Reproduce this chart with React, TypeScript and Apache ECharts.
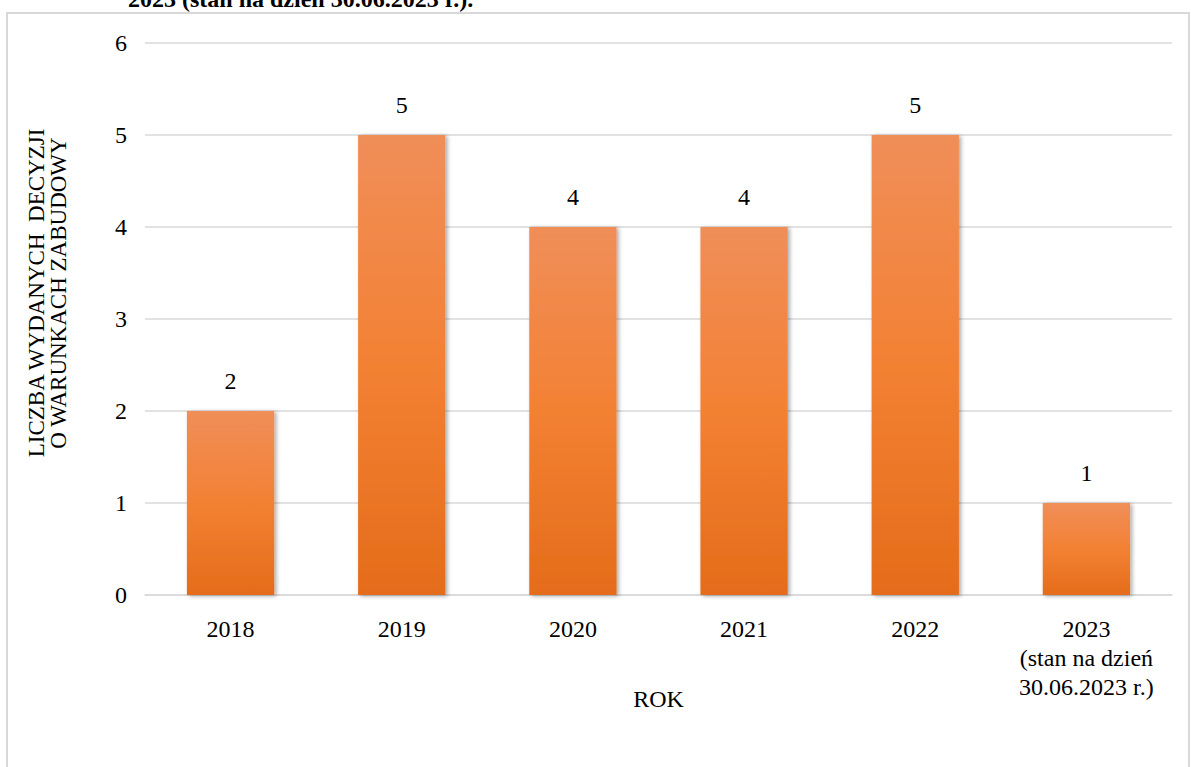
import React, { useEffect, useRef } from "react";
import * as echarts from "echarts";

const categories = ["2018", "2019", "2020", "2021", "2022", "2023\n(stan na dzień\n30.06.2023 r.)"];
const values = [2, 5, 4, 4, 5, 1];
const yAxisTitle = "LICZBA WYDANYCH  DECYZJI\nO WARUNKACH ZABUDOWY";
const xAxisTitle = "ROK";
const topCaption = "2023 (stan na dzień 30.06.2023 r.).";

const FONT = "Liberation Serif";
const base = { fontFamily: FONT, fontSize: 24, color: "#000" };

export default function App() {
  const ref = useRef<HTMLDivElement>(null);
  useEffect(() => {
    if (!ref.current) return;
    const chart = echarts.init(ref.current, undefined, { renderer: "svg" });
    chart.setOption({
      animation: false,
      backgroundColor: "#ffffff",
      textStyle: { fontFamily: FONT },
      graphic: [
        {
          type: "rect",
          shape: { x: 7, y: 13, width: 1182, height: 800 },
          style: { fill: "none", stroke: "#d9d9d9", lineWidth: 2 },
          silent: true,
        },
        {
          type: "text",
          x: 128,
          y: 11,
          style: {
            text: topCaption,
            fontFamily: FONT,
            fontWeight: "bold",
            fontSize: 24,
            fill: "#000",
            verticalAlign: "bottom",
            align: "left",
          },
        },
      ],
      grid: { left: 145, right: 19, top: 43, bottom: 172 },
      xAxis: {
        type: "category",
        data: categories,
        name: xAxisTitle,
        nameLocation: "middle",
        nameGap: 92,
        nameMoveOverlap: false,
        nameTextStyle: { ...base },
        axisLine: { lineStyle: { color: "#d9d9d9", width: 1.5 } },
        axisTick: { show: false },
        axisLabel: { ...base, lineHeight: 29, margin: 19, interval: 0 },
      },
      yAxis: {
        type: "value",
        min: 0,
        max: 6,
        interval: 1,
        name: yAxisTitle,
        nameLocation: "middle",
        nameRotate: 90,
        nameGap: 76,
        nameTextStyle: { ...base, fontSize: 23, lineHeight: 22, align: "center", padding: [0, 0, 0, 52] },
        axisLine: { show: false },
        axisTick: { show: false },
        axisLabel: { ...base, margin: 18 },
        splitLine: { lineStyle: { color: "#d9d9d9", width: 1.5 } },
      },
      series: [
        {
          type: "bar",
          data: values,
          barWidth: "51%",
          itemStyle: {
            color: new echarts.graphic.LinearGradient(0, 0, 0, 1, [
              { offset: 0, color: "#F08E59" },
              { offset: 0.5, color: "#F38133" },
              { offset: 1, color: "#E46C1A" },
            ]),
            shadowColor: "rgba(0,0,0,0.35)",
            shadowBlur: 4,
            shadowOffsetX: 2,
            shadowOffsetY: 1,
          },
          label: { show: true, position: "top", distance: 18, ...base },
        },
      ],
    });
    return () => chart.dispose();
  }, []);
  return (
    <div
      ref={ref}
      style={{ position: "fixed", left: 0, top: 0, width: 1191, height: 767, background: "#fff" }}
    />
  );
}
